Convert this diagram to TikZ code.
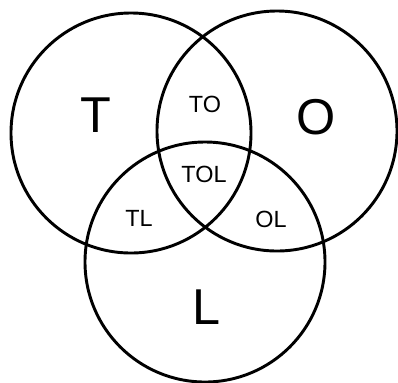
\documentclass[tikz,border=0pt]{standalone}
\usepackage{fontspec}
\setmainfont{Liberation Sans}
\begin{document}
\begin{tikzpicture}[x=0.03cm,y=-0.03cm,
 ring/.style={draw,line width=2.5pt},
 setname/.style={font=\fontsize{43}{43}\selectfont},
 overlap/.style={font=\fontsize{20}{20}\selectfont}]
\useasboundingbox (0,0) rectangle (398,382);
\coordinate (cT) at (131,133);
\coordinate (cO) at (277,131);
\coordinate (cL) at (205,262);
\draw[ring] (cT) circle[radius=120];
\draw[ring] (cO) circle[radius=120];
\draw[ring] (cL) circle[radius=120];
\node[setname] (T) at (96,115) {T};
\node[setname] (O) at (316,117) {O};
\node[setname] (L) at (207,307) {L};
\node[overlap] (TO) at (205,104) {TO};
\node[overlap] (TOL) at (204,174) {TOL};
\node[overlap] (TL) at (139,218) {TL};
\node[overlap] (OL) at (271,219) {OL};
\end{tikzpicture}
\end{document}
